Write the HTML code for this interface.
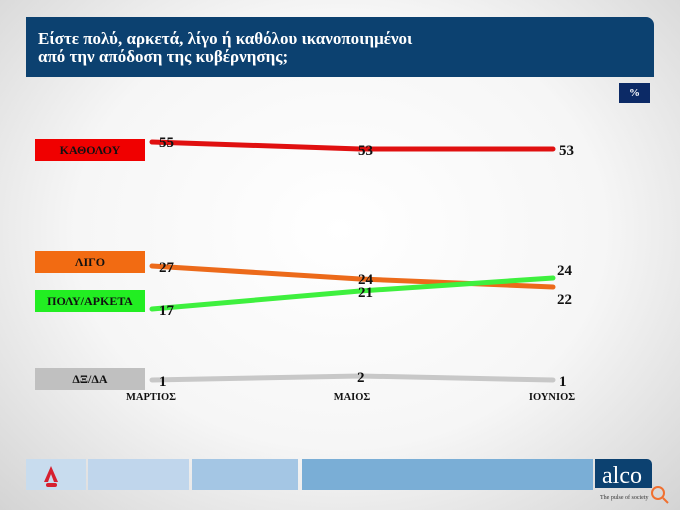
<!DOCTYPE html>
<html><head><meta charset="utf-8"><style>
body{margin:0;width:680px;height:510px;overflow:hidden;font-family:"Liberation Serif",serif;
background:radial-gradient(ellipse at 50% 45%,#ffffff 0%,#f6f6f6 55%,#d4d4d4 100%);position:relative}
.a{position:absolute}
.t{left:26px;top:17px;width:628px;height:60px;background:#0c4170;border-top-right-radius:8px;color:#fff;font-weight:bold;font-size:17px;line-height:18px;box-sizing:border-box;padding:13px 0 0 12px}
.lab{left:35px;width:110px;height:22px;font-weight:bold;font-size:12px;text-align:center;line-height:22px;color:#111}
</style></head><body>
<div class="a t">Είστε πολύ, αρκετά, λίγο ή καθόλου ικανοποιημένοι<br>από την απόδοση της κυβέρνησης;</div>
<div class="a" style="left:619px;top:83px;width:31px;height:20px;background:#0c2a66;color:#fff;font-size:11px;font-weight:bold;text-align:center;line-height:20px">%</div>
<div class="a lab" style="top:139px;background:#f00000">ΚΑΘΟΛΟΥ</div>
<div class="a lab" style="top:251px;background:#f26b12">ΛΙΓΟ</div>
<div class="a lab" style="top:290px;background:#22ee22">ΠΟΛΥ/ΑΡΚΕΤΑ</div>
<div class="a lab" style="top:368px;background:#c0c0c0">ΔΞ/ΔΑ</div>
<svg class="a" style="left:0;top:0" width="680" height="510" font-family="Liberation Serif" font-weight="bold">
<g fill="none" stroke-width="5" stroke-linecap="round">
<polyline points="152,142 360,149 553,149" stroke="#e01010"/>
<polyline points="152,266 360,279 553,287" stroke="#ec6a1a"/>
<polyline points="152,309 360,291 553,278" stroke="#3ef03e"/>
<polyline points="152,380 360,376 553,380" stroke="#c8c8c8"/>
</g>
<g font-size="15" fill="#111">
<text x="159" y="147">55</text><text x="358" y="155">53</text><text x="559" y="155">53</text>
<text x="159" y="272">27</text><text x="358" y="284">24</text><text x="557" y="275">24</text>
<text x="159" y="315">17</text><text x="358" y="297">21</text><text x="557" y="304">22</text>
<text x="159" y="386">1</text><text x="357" y="382">2</text><text x="559" y="386">1</text>
</g>
<g font-size="10.5" fill="#111" text-anchor="middle">
<text x="151" y="400">ΜΑΡΤΙΟΣ</text><text x="352" y="400">ΜΑΙΟΣ</text><text x="552" y="400">ΙΟΥΝΙΟΣ</text>
</g>
<rect x="26" y="459" width="60" height="31" fill="#c8dcee"/>
<rect x="88" y="459" width="101" height="31" fill="#c0d6ec"/>
<rect x="192" y="459" width="106" height="31" fill="#a4c6e4"/>
<rect x="302" y="459" width="291" height="31" fill="#7aaed6"/>
<path d="M595 459h52a5 5 0 0 1 5 5v24h-57z" fill="#0c4170"/>
<text x="622" y="483" font-size="24" font-weight="normal" fill="#fff" text-anchor="middle">alco</text>
<text x="600" y="499" font-size="6" font-weight="normal" fill="#333">The pulse of society</text>
<path d="M51 466l-7 16h4l3-8 3 8h4z" fill="#d62030"/><rect x="46" y="483" width="11" height="4" rx="2" fill="#d62030"/>
<circle cx="658" cy="493" r="6" fill="none" stroke="#f07030" stroke-width="2"/><path d="M663 498l5 5" stroke="#f07030" stroke-width="2"/>
</svg>
</body></html>
